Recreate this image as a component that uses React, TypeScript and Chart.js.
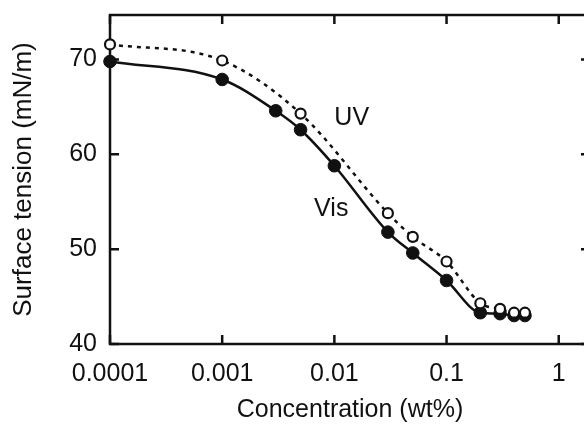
import { useEffect, useRef } from "react";
import { Chart, registerables } from "chart.js";

Chart.register(...registerables);

// ---- data ----
const visConc = [0.0001, 0.001, 0.003, 0.005, 0.01, 0.03, 0.05, 0.1, 0.2, 0.3, 0.4, 0.5];
const visTension = [69.8, 67.9, 64.6, 62.6, 58.8, 51.8, 49.6, 46.7, 43.3, 43.2, 43.0, 43.0];
const uvConc = [0.0001, 0.001, 0.005, 0.03, 0.05, 0.1, 0.2, 0.3, 0.4, 0.5];
const uvTension = [71.6, 69.9, 64.3, 53.8, 51.3, 48.7, 44.3, 43.7, 43.3, 43.3];
const xTickValues = [0.0001, 0.001, 0.01, 0.1, 1];
const xTickLabels = ["0.0001", "0.001", "0.01", "0.1", "1"];
const yTickValues = [40, 50, 60, 70];
const seriesNames = ["UV", "Vis"];
const seriesNameAnchorX = [0.01, 0.0066];
const seriesNameAnchorY = [63.8, 54.2];
const xTitle = "Concentration (wt%)";
const yTitle = "Surface tension (mN/m)";

const FONT = "'Liberation Sans', Arial, Helvetica, sans-serif";
const INK = "#111111";

const framePlugin = {
  id: "framePlugin",
  beforeDatasetsDraw(chart: any) {
    const { ctx, chartArea: a, scales } = chart;
    ctx.save();
    ctx.strokeStyle = INK;
    ctx.lineWidth = 2.5;
    ctx.strokeRect(a.left, a.top, a.right - a.left, a.bottom - a.top);
    const L = 9;
    ctx.beginPath();
    for (const v of xTickValues) {
      const px = scales.x.getPixelForValue(v);
      ctx.moveTo(px, a.bottom);
      ctx.lineTo(px, a.bottom - L);
      ctx.moveTo(px, a.top);
      ctx.lineTo(px, a.top + L);
    }
    for (const v of yTickValues) {
      const py = scales.y.getPixelForValue(v);
      ctx.moveTo(a.left, py);
      ctx.lineTo(a.left + L, py);
      ctx.moveTo(a.right, py);
      ctx.lineTo(a.right - L, py);
    }
    ctx.stroke();
    ctx.restore();
  },
  afterDatasetsDraw(chart: any) {
    const { ctx, scales } = chart;
    ctx.save();
    ctx.fillStyle = INK;
    ctx.font = `25px ${FONT}`;
    ctx.textAlign = "left";
    ctx.textBaseline = "middle";
    seriesNames.forEach((name, i) => {
      ctx.fillText(
        name,
        scales.x.getPixelForValue(seriesNameAnchorX[i]),
        scales.y.getPixelForValue(seriesNameAnchorY[i])
      );
    });
    ctx.restore();
  },
};

export default function App() {
  const ref = useRef<HTMLCanvasElement>(null);

  useEffect(() => {
    if (!ref.current) return;
    const chart = new Chart(ref.current, {
      type: "line",
      data: {
        datasets: [
          {
            label: "UV",
            data: uvConc.map((c, i) => ({ x: c, y: uvTension[i] })),
            borderColor: INK,
            borderWidth: 2.5,
            borderDash: [4, 5],
            cubicInterpolationMode: "monotone",
            pointRadius: 5,
            pointBorderWidth: 2.2,
            pointBackgroundColor: "#ffffff",
            pointBorderColor: INK,
            clip: false,
          },
          {
            label: "Vis",
            data: visConc.map((c, i) => ({ x: c, y: visTension[i] })),
            borderColor: INK,
            borderWidth: 2.5,
            cubicInterpolationMode: "monotone",
            pointRadius: 6.3,
            pointBorderWidth: 1,
            pointBackgroundColor: INK,
            pointBorderColor: INK,
            clip: false,
          },
        ],
      },
      options: {
        animation: false,
        responsive: false,
        layout: { padding: { left: 0, top: 15, right: 10, bottom: 0 } },
        plugins: {
          legend: { display: false },
          tooltip: { enabled: false },
        },
        scales: {
          x: {
            type: "logarithmic",
            min: 0.0001,
            max: 1.9,
            grid: { display: false, drawTicks: false },
            border: { display: false },
            afterBuildTicks: (s: any) => {
              s.ticks = xTickValues.map((v) => ({ value: v }));
            },
            afterFit: (s: any) => {
              s.height = 81;
              s.paddingLeft = 0;
              s.paddingRight = 0;
            },
            ticks: {
              autoSkip: false,
              maxRotation: 0,
              padding: 15,
              color: INK,
              font: { family: FONT, size: 25 },
              callback: (_v: any, i: number) => xTickLabels[i],
            },
            title: {
              display: true,
              text: xTitle,
              color: INK,
              font: { family: FONT, size: 25 },
              padding: { top: 0, bottom: 0 },
            },
          },
          y: {
            type: "linear",
            min: 40,
            max: 74.7,
            grid: { display: false, drawTicks: false },
            border: { display: false },
            afterBuildTicks: (s: any) => {
              s.ticks = yTickValues.map((v) => ({ value: v }));
            },
            afterFit: (s: any) => {
              s.width = 110;
              s.paddingTop = 0;
              s.paddingBottom = 0;
            },
            ticks: {
              padding: 13,
              color: INK,
              font: { family: FONT, size: 25 },
              callback: (v: any) => String(v),
            },
            title: {
              display: true,
              text: yTitle,
              color: INK,
              font: { family: FONT, size: 26 },
              padding: { top: 8, bottom: 0 },
            },
          },
        },
      },
      plugins: [framePlugin],
    } as any);
    return () => chart.destroy();
  }, []);

  return (
    <div
      style={{
        position: "absolute",
        left: 0,
        top: 0,
        width: 584,
        height: 425,
        overflow: "hidden",
        background: "#ffffff",
      }}
    >
      <canvas ref={ref} width={600} height={425} style={{ display: "block" }} />
    </div>
  );
}
